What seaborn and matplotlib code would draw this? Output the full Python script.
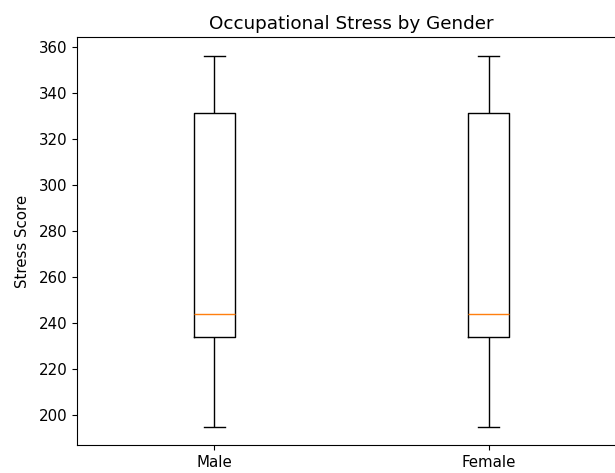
import matplotlib
matplotlib.use("Agg")
import matplotlib.pyplot as plt
import seaborn as sns
import pandas as pd

genders = ["Male", "Female"]
male_scores = [195, 234, 244, 331, 356]
female_scores = [195, 234, 244, 331, 356]

df = pd.DataFrame({
    "Gender": ["Male"] * len(male_scores) + ["Female"] * len(female_scores),
    "Stress Score": male_scores + female_scores,
})

plt.rcParams["xtick.labelsize"] = 10.8
plt.rcParams["ytick.labelsize"] = 10.8
plt.rcParams["axes.labelsize"] = 10.8
plt.rcParams["axes.titlesize"] = 13.2

fig = plt.figure(figsize=(6.15, 4.73), dpi=100)
ax = fig.add_axes([77 / 615, 28 / 473, 549 / 615, (445 - 37.5) / 473])

sns.boxplot(
    data=df, x="Gender", y="Stress Score", order=genders, ax=ax,
    fill=False, color="black", linecolor="black", linewidth=1,
    width=0.15, whis=1.5,
    medianprops={"color": "#ff7f0e", "linewidth": 1},
)
ax.set_xlim(-0.5, 1.5)
ax.set_ylim(187.0, 364.0)
ax.set_yticks([200, 220, 240, 260, 280, 300, 320, 340, 360])
ax.set_xlabel("")
ax.set_ylabel("Stress Score", labelpad=6)
ax.set_title("Occupational Stress by Gender")

fig.savefig("out.png", dpi=100)
